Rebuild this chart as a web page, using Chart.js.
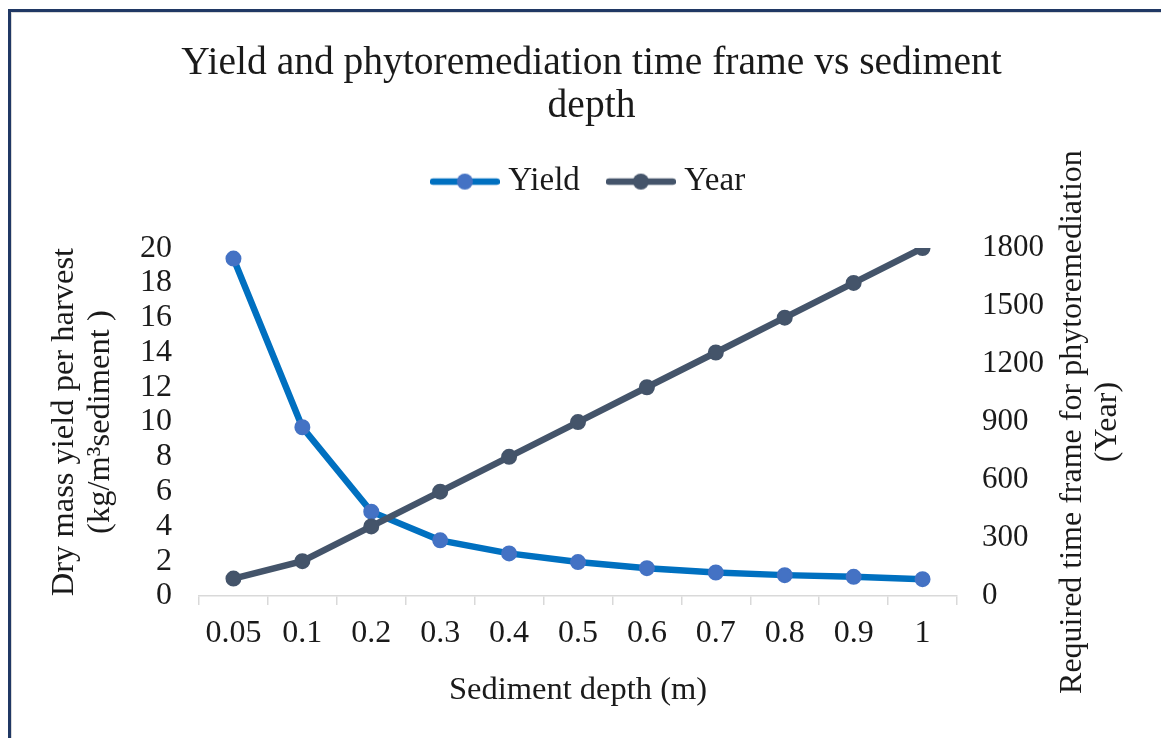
<!DOCTYPE html>
<html><head><meta charset="utf-8">
<script src="https://cdn.jsdelivr.net/npm/chart.js@4.4.1/dist/chart.umd.min.js"></script>
<style>
html,body{margin:0;padding:0;background:#fff;overflow:hidden;}
#wrap{position:relative;width:1161px;height:738px;}
#frame{position:absolute;left:8px;top:9px;width:2000px;height:2000px;border-top:3px solid #203864;border-left:3px solid #203864;}
#frame2{position:absolute;left:11px;top:12px;width:2000px;height:2000px;border-top:1px solid #d9d9d9;border-left:1px solid #d9d9d9;}
canvas{position:absolute;left:0;top:0;}
</style></head><body>
<div id="wrap"><div id="frame"></div><div id="frame2"></div><canvas id="c" width="1161" height="738"></canvas></div>
<script>
const depthLabels = ['0.05','0.1','0.2','0.3','0.4','0.5','0.6','0.7','0.8','0.9','1'];
const yieldValues = [19.4, 9.7, 4.85, 3.2, 2.45, 1.95, 1.6, 1.35, 1.2, 1.1, 0.97];
const yearValues = [90, 180, 360, 540, 720, 900, 1080, 1260, 1440, 1620, 1800];
const yieldTicks = [0, 2, 4, 6, 8, 10, 12, 14, 16, 18, 20];
const yearTicks = [0, 300, 600, 900, 1200, 1500, 1800];
const seriesNames = ['Yield', 'Year'];
const titleLines = ['Yield and phytoremediation time frame vs sediment', 'depth'];
const xTitle = 'Sediment depth (m)';
const yLeftTitle = ['Dry mass yield per harvest', '(kg/m\u00B3sediment )'];
const yRightTitle = ['Required time frame for phytoremediation', '(Year)'];

const SERIF = "'Liberation Serif', 'Times New Roman', serif";
const TEXT = '#1a1a1a';
const YIELD_LINE = '#0070C0', YIELD_PT = '#4472C4';
const YEAR_LINE = '#44546A', YEAR_PT = '#44546A';

function legendIcon(lineColor, ptColor) {
  const cv = document.createElement('canvas');
  cv.width = 70; cv.height = 20;
  const g = cv.getContext('2d');
  g.strokeStyle = lineColor; g.lineWidth = 6.5; g.lineCap = 'round';
  g.beginPath(); g.moveTo(3, 10); g.lineTo(67, 10); g.stroke();
  g.fillStyle = ptColor; g.beginPath(); g.arc(35, 10, 8, 0, Math.PI * 2); g.fill();
  return cv;
}
const legendIcons = [legendIcon(YIELD_LINE, YIELD_PT), legendIcon(YEAR_LINE, YEAR_PT)];

const rightTitlePlugin = {
  id: 'rightTitle',
  afterDraw(chart) {
    const s = chart.scales.y1;
    const ctx = chart.ctx;
    const cy = (chart.chartArea.top + chart.chartArea.bottom) / 2;
    ctx.save();
    ctx.font = '32px ' + SERIF;
    ctx.fillStyle = TEXT;
    ctx.textAlign = 'center';
    ctx.textBaseline = 'middle';
    const xs = [s.right - 88, s.right - 53];
    yRightTitle.forEach((t, i) => {
      ctx.save();
      ctx.translate(xs[i], cy);
      ctx.rotate(-Math.PI / 2);
      ctx.fillText(t, 0, 0);
      ctx.restore();
    });
    ctx.restore();
  }
};

new Chart(document.getElementById('c'), {
  type: 'line',
  data: {
    labels: depthLabels,
    datasets: [
      { label: seriesNames[0], data: yieldValues, yAxisID: 'y', order: 1,
        borderColor: YIELD_LINE, borderWidth: 6.5, pointRadius: 7, pointBorderWidth: 2,
        pointBackgroundColor: YIELD_PT, pointBorderColor: YIELD_PT, tension: 0, fill: false },
      { label: seriesNames[1], data: yearValues, yAxisID: 'y1', order: 0,
        borderColor: YEAR_LINE, borderWidth: 6.5, pointRadius: 7, pointBorderWidth: 2,
        pointBackgroundColor: YEAR_PT, pointBorderColor: YEAR_PT, tension: 0, fill: false }
    ]
  },
  options: {
    responsive: false,
    animation: false,
    devicePixelRatio: 1,
    layout: { padding: { left: 22, right: 0, top: 0, bottom: 0 } },
    plugins: {
      tooltip: { enabled: false },
      title: {
        display: true, text: titleLines, color: TEXT,
        font: { family: SERIF, size: 39.5, weight: 'normal', lineHeight: 1.09 },
        padding: { top: 42.5, bottom: 2.5 }
      },
      legend: {
        display: true, position: 'top',
        labels: {
          usePointStyle: true, pointStyleWidth: 54, padding: 34, color: TEXT,
          font: { family: SERIF, size: 33 },
          sort: (a, b) => a.datasetIndex - b.datasetIndex,
          generateLabels(chart) {
            const items = Chart.defaults.plugins.legend.labels.generateLabels(chart);
            items.forEach(it => { it.pointStyle = legendIcons[it.datasetIndex]; });
            return items;
          }
        }
      },
      subtitle: {
        display: true, text: ' ', weight: 500,
        font: { size: 10, lineHeight: 1 }, padding: { top: 0, bottom: 30 }
      }
    },
    scales: {
      x: {
        type: 'category', offset: true,
        grid: { display: true, drawOnChartArea: false, drawTicks: true, tickLength: 9, color: '#d9d9d9', lineWidth: 1.5, offset: true },
        border: { display: true, color: '#d9d9d9', width: 1.5 },
        ticks: { color: TEXT, font: { family: SERIF, size: 32 }, padding: 9, maxRotation: 0, autoSkip: false },
        title: { display: true, text: xTitle, color: TEXT, font: { family: SERIF, size: 32.5, lineHeight: 1.2 }, padding: { top: 19, bottom: 28 } },
        afterFit(s) { s.height = 142; }
      },
      y: {
        type: 'linear', position: 'left', min: 0, max: 20,
        afterBuildTicks(s) { s.ticks = yieldTicks.map(v => ({ value: v })); },
        grid: { display: false, drawTicks: false },
        border: { display: false },
        ticks: { color: TEXT, font: { family: SERIF, size: 32 }, padding: 27, autoSkip: false, callback: v => String(v) },
        title: { display: true, text: yLeftTitle, color: TEXT, font: { family: SERIF, size: 32.5, lineHeight: 1.11 }, padding: { top: 24, bottom: 0 } },
        afterFit(s) { s.width = 177; }
      },
      y1: {
        type: 'linear', position: 'right', min: 0, max: 1800,
        afterBuildTicks(s) { s.ticks = yearTicks.map(v => ({ value: v })); },
        grid: { display: false, drawTicks: false },
        border: { display: false },
        ticks: { color: TEXT, font: { family: SERIF, size: 31 }, padding: 25, autoSkip: false, callback: v => String(v) },
        afterFit(s) { s.width = 204; }
      }
    }
  },
  plugins: [rightTitlePlugin]
});
</script>
</body></html>
